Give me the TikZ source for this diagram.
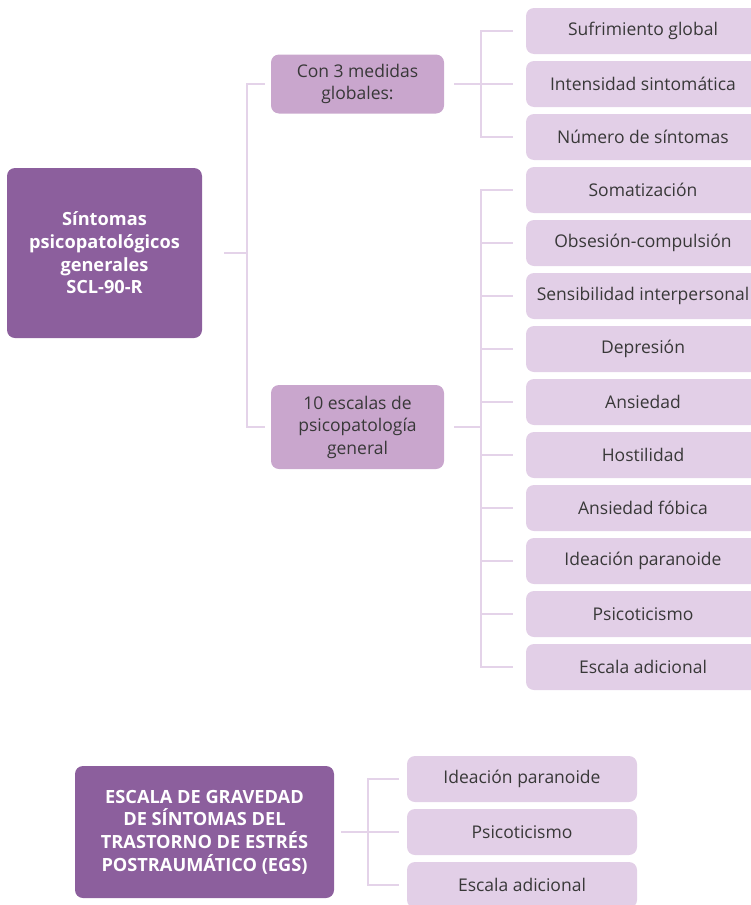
\documentclass[tikz,border=0pt]{standalone}
\usepackage{fontspec}
\setmainfont{Open Sans}[Ligatures=NoCommon]
\usepackage{xcolor}
\usepackage{tikz}
\usetikzlibrary{positioning}

\definecolor{darkplum}{HTML}{8C5F9D}
\definecolor{midplum}{HTML}{C9A6CD}
\definecolor{lightplum}{HTML}{E2CFE7}
\definecolor{lineplum}{HTML}{E4D3E9}
\definecolor{textgray}{HTML}{383838}

\begin{document}
\begin{tikzpicture}[x=1pt,y=-1pt,
    mainbox/.style={fill=darkplum,rounded corners=8pt,text=white,align=center,
        font=\fontsize{18.2}{22.7}\selectfont\bfseries,inner sep=0pt},
    midbox/.style={fill=midplum,rounded corners=8pt,text=textgray,align=center,
        font=\fontsize{17.5}{22.5}\selectfont,minimum width=173pt,inner sep=0pt},
    leafbox/.style={fill=lightplum,rounded corners=8pt,text=textgray,align=center,
        font=\fontsize{17.5}{20}\selectfont,minimum height=46pt,inner sep=0pt},
    tree/.style={draw=lineplum,line width=2pt}]
    \useasboundingbox (0,0) rectangle (750,905);

    % Upper block: SCL-90-R
    \node[mainbox,minimum width=195pt,minimum height=170pt] (scl) at (104.5,253)
        {Síntomas\\psicopatológicos\\generales\\SCL-90-R};

    % Second level
    \node[midbox,minimum height=59pt] (medidas) at (357.5,84) {Con 3 medidas\\globales:};
    \node[midbox,minimum height=84pt] (escalas) at (357.5,427) {10 escalas de\\psicopatología\\general};

    % Global measures
    \node[leafbox,minimum width=234pt] (suf) at (643,31) {Sufrimiento global};
    \node[leafbox,minimum width=234pt] (int) at (643,84) {Intensidad sintomática};
    \node[leafbox,minimum width=234pt] (num) at (643,137) {Número de síntomas};

    % Scales
    \node[leafbox,minimum width=234pt] (som) at (643,190) {Somatización};
    \node[leafbox,minimum width=234pt] (obs) at (643,243) {Obsesión-compulsión};
    \node[leafbox,minimum width=234pt] (sen) at (643,296) {Sensibilidad interpersonal};
    \node[leafbox,minimum width=234pt] (dep) at (643,349) {Depresión};
    \node[leafbox,minimum width=234pt] (ans) at (643,402) {Ansiedad};
    \node[leafbox,minimum width=234pt] (hos) at (643,455) {Hostilidad};
    \node[leafbox,minimum width=234pt] (fob) at (643,508) {Ansiedad fóbica};
    \node[leafbox,minimum width=234pt] (ide) at (643,561) {Ideación paranoide};
    \node[leafbox,minimum width=234pt] (psi) at (643,614) {Psicoticismo};
    \node[leafbox,minimum width=234pt] (adi) at (643,667) {Escala adicional};

    % Junctions
    \coordinate (jscl) at (247,253);
    \coordinate (jmed) at (481,84);
    \coordinate (jesc) at (481,427);

    % Upper tree lines
    \draw[tree] ([xshift=22pt]scl.east) -- (jscl);
    \draw[tree] (jscl) |- ([xshift=-6pt]medidas.west);
    \draw[tree] (jscl) |- ([xshift=-6pt]escalas.west);
    \draw[tree] ([xshift=10pt]medidas.east) -- (jmed);
    \foreach \leaf in {suf,int,num}
        \draw[tree] (jmed) |- ([xshift=-13pt]\leaf.west);
    \draw[tree] ([xshift=10pt]escalas.east) -- (jesc);
    \foreach \leaf in {som,obs,sen,dep,ans,hos,fob,ide,psi,adi}
        \draw[tree] (jesc) |- ([xshift=-13pt]\leaf.west);

    % Lower block: EGS
    \node[mainbox,minimum width=259pt,minimum height=132pt] (egs) at (204.5,832)
        {ESCALA DE GRAVEDAD\\DE SÍNTOMAS DEL\\TRASTORNO DE ESTRÉS\\POSTRAUMÁTICO (EGS)};
    \node[leafbox,minimum width=230pt] (egside) at (522,779) {Ideación paranoide};
    \node[leafbox,minimum width=230pt] (egspsi) at (522,832) {Psicoticismo};
    \node[leafbox,minimum width=230pt] (egsadi) at (522,885) {Escala adicional};

    % Lower tree lines
    \coordinate (jegs) at (368,832);
    \draw[tree] ([xshift=7pt]egs.east) -- (jegs);
    \foreach \leaf in {egside,egspsi,egsadi}
        \draw[tree] (jegs) |- ([xshift=-8pt]\leaf.west);
\end{tikzpicture}
\end{document}
